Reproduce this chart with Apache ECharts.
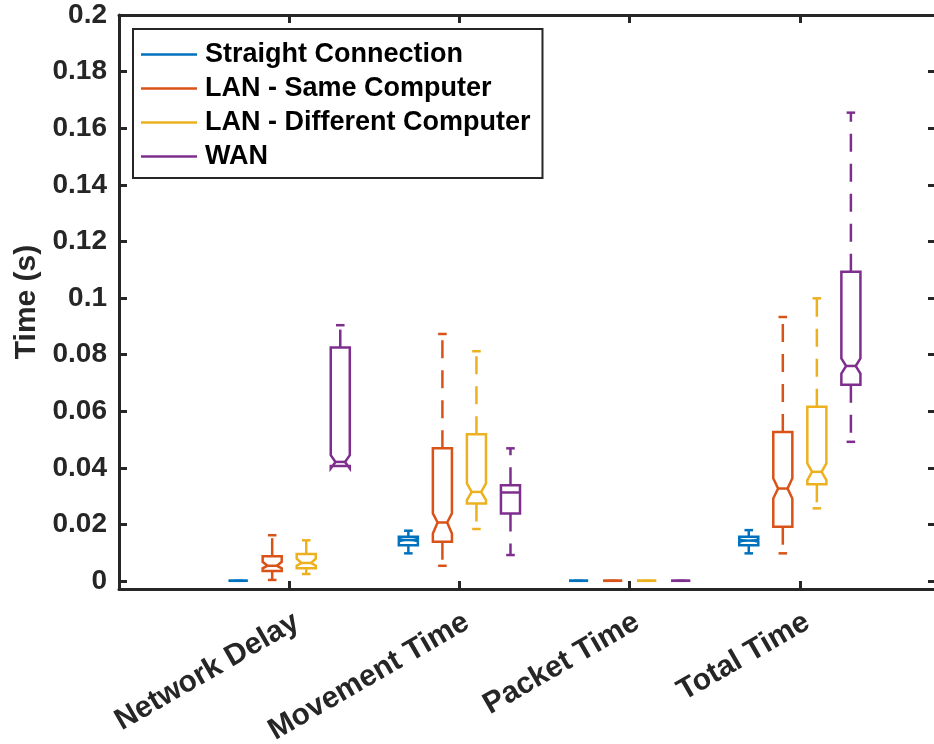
<!DOCTYPE html>
<html>
<head>
<meta charset="utf-8">
<script src="https://cdn.jsdelivr.net/npm/echarts@6/dist/echarts.min.js"></script>
<style>html,body{margin:0;padding:0;background:#fff;}#c{width:934px;height:744px;}</style>
</head>
<body>
<div id="c"></div>
<script>
// ---- data ----
const categories = ['Network Delay', 'Movement Time', 'Packet Time', 'Total Time'];
const seriesNames = ['Straight Connection', 'LAN - Same Computer', 'LAN - Different Computer', 'WAN'];
const yTickValues = [0, 0.02, 0.04, 0.06, 0.08, 0.1, 0.12, 0.14, 0.16, 0.18, 0.2];
const yTickLabels = ['0', '0.02', '0.04', '0.06', '0.08', '0.1', '0.12', '0.14', '0.16', '0.18', '0.2'];
// each row: [lowerWhisker, q1, notchLow, median, notchHigh, q3, upperWhisker] per category
const straightStats = [
  [0.0001, 0.0001, 0.0001, 0.0001, 0.0001, 0.0001, 0.0001],
  [0.0098, 0.0127, 0.0141, 0.0145, 0.0149, 0.0157, 0.0178],
  [0.0001, 0.0001, 0.0001, 0.0001, 0.0001, 0.0001, 0.0001],
  [0.0098, 0.0127, 0.0139, 0.0143, 0.0147, 0.0157, 0.0180]
];
const lanSameStats = [
  [0.0004, 0.0036, 0.0045, 0.0054, 0.0068, 0.0088, 0.0162],
  [0.0054, 0.0139, 0.0168, 0.0207, 0.0239, 0.0469, 0.0873],
  [0.0001, 0.0001, 0.0001, 0.0001, 0.0001, 0.0001, 0.0001],
  [0.0098, 0.0192, 0.0292, 0.0327, 0.0363, 0.0527, 0.0933]
];
const lanDiffStats = [
  [0.0025, 0.0045, 0.0054, 0.0064, 0.0079, 0.0096, 0.0144],
  [0.0184, 0.0274, 0.0286, 0.0315, 0.0345, 0.0519, 0.0812],
  [0.0001, 0.0001, 0.0001, 0.0001, 0.0001, 0.0001, 0.0001],
  [0.0257, 0.0342, 0.0357, 0.0386, 0.0416, 0.0616, 0.0999]
];
const wanStats = [
  [0.0407, 0.0407, 0.0398, 0.0421, 0.0445, 0.0825, 0.0904],
  [0.0092, 0.0239, 0.0313, 0.0313, 0.0313, 0.0339, 0.0469],
  [0.0001, 0.0001, 0.0001, 0.0001, 0.0001, 0.0001, 0.0001],
  [0.0492, 0.0694, 0.0733, 0.0760, 0.0787, 0.1093, 0.1655]
];

// ---- style ----
const allStats = [straightStats, lanSameStats, lanDiffStats, wanStats];
const colors = ['#0072BD', '#D95319', '#EDB120', '#7E2F8E'];
const offsets = [-0.3, -0.1, 0.1, 0.3];
const BOX_W = 0.112;
const FONT = "'Liberation Sans', Arial, Helvetica, sans-serif";
const AX = '#262626';
const LW = 2.5;

function makeRender(offset) {
  return function (params, api) {
    const g = api.value(0) + offset;
    const lo = api.value(1), q1 = api.value(2), nLo = api.value(3), med = api.value(4),
          nHi = api.value(5), q3 = api.value(6), hi = api.value(7);
    const cx = api.coord([g, 0])[0];
    const w = api.size([BOX_W, 0])[0];
    const L = cx - w / 2, R = cx + w / 2;
    const y = v => api.coord([g, v])[1];
    const notched = nHi > nLo;
    const ind = notched ? w / 4 : 0;
    const color = api.visual('color');
    const pts = notched
      ? [[L, y(q1)], [L, y(nLo)], [L + ind, y(med)], [L, y(nHi)], [L, y(q3)], [R, y(q3)], [R, y(nHi)], [R - ind, y(med)], [R, y(nLo)], [R, y(q1)]]
      : [[L, y(q1)], [L, y(q3)], [R, y(q3)], [R, y(q1)]];
    const cw = w * 0.45;
    const sLine = { stroke: color, lineWidth: LW, fill: null };
    const dLine = { stroke: color, lineWidth: LW, fill: null, lineDash: [18, 12] };
    const children = [];
    if (hi > q3) children.push({ type: 'line', shape: { x1: cx, y1: y(q3), x2: cx, y2: y(hi) }, style: dLine });
    if (lo < q1) children.push({ type: 'line', shape: { x1: cx, y1: y(q1), x2: cx, y2: y(lo) }, style: dLine });
    if (hi >= q3) children.push({ type: 'line', shape: { x1: cx - cw / 2, y1: y(hi), x2: cx + cw / 2, y2: y(hi) }, style: sLine });
    if (lo < q1) children.push({ type: 'line', shape: { x1: cx - cw / 2, y1: y(lo), x2: cx + cw / 2, y2: y(lo) }, style: sLine });
    children.push({ type: 'polygon', shape: { points: pts }, style: { stroke: color, lineWidth: LW, fill: null, lineJoin: 'miter' } });
    children.push({ type: 'line', shape: { x1: L + ind, y1: y(med), x2: R - ind, y2: y(med) }, style: sLine });
    return { type: 'group', children: children };
  };
}

const series = seriesNames.map((name, s) => ({
  name: name,
  type: 'custom',
  renderItem: makeRender(offsets[s]),
  itemStyle: { color: colors[s] },
  encode: { x: 0, y: [1, 2, 3, 4, 5, 6, 7] },
  data: allStats[s].map((row, i) => [i + 1].concat(row)),
  z: 5
}));

const chart = echarts.init(document.getElementById('c'), null, { renderer: 'canvas' });
chart.setOption({
  animation: false,
  backgroundColor: '#fff',
  grid: { left: 119, top: 15, right: -2, bottom: 155, containLabel: false, outerBoundsMode: 'none' },
  legend: {
    orient: 'vertical',
    left: 133, top: 29,
    padding: [12, 12, 8, 8],
    itemGap: 7,
    itemWidth: 56, itemHeight: 2.5,
    borderColor: AX, borderWidth: 2, backgroundColor: '#fff',
    textStyle: { fontFamily: FONT, fontWeight: 'bold', fontSize: 27, color: '#000', lineHeight: 27, padding: [0, 0, 0, 3] },
    data: seriesNames.map((n, i) => ({ name: n, icon: 'rect', itemStyle: { color: colors[i] } }))
  },
  xAxis: [{
    type: 'value', min: 0, max: 4.8, position: 'bottom',
    axisLine: { show: true, onZero: false, lineStyle: { color: AX, width: 3 } },
    axisTick: { show: true, inside: true, length: 8, customValues: [1, 2, 3, 4], lineStyle: { color: AX, width: 3 } },
    axisLabel: {
      customValues: [1, 2, 3, 4], rotate: 30, margin: 18, verticalAlign: 'top',
      formatter: v => categories[Math.round(v) - 1],
      fontFamily: FONT, fontWeight: 'bold', fontSize: 30, color: AX
    },
    splitLine: { show: false }
  }, {
    type: 'value', min: 0, max: 4.8, position: 'top',
    axisLine: { show: true, onZero: false, lineStyle: { color: AX, width: 3 } },
    axisTick: { show: true, inside: true, length: 8, customValues: [1, 2, 3, 4], lineStyle: { color: AX, width: 3 } },
    axisLabel: { show: false },
    splitLine: { show: false }
  }],
  yAxis: [{
    type: 'value', min: -0.0028, max: 0.2, position: 'left',
    name: 'Time (s)', nameLocation: 'middle', nameGap: 76, nameRotate: 90,
    nameTextStyle: { fontFamily: FONT, fontWeight: 'bold', fontSize: 30, color: AX },
    axisLine: { show: true, onZero: false, lineStyle: { color: AX, width: 3 } },
    axisTick: { show: true, inside: true, length: 8, customValues: yTickValues, lineStyle: { color: AX, width: 3 } },
    axisLabel: {
      customValues: yTickValues, margin: 12,
      formatter: v => { const i = yTickValues.findIndex(t => Math.abs(t - v) < 1e-9); return i >= 0 ? yTickLabels[i] : ''; },
      fontFamily: FONT, fontWeight: 'bold', fontSize: 28, color: AX
    },
    splitLine: { show: false }
  }, {
    type: 'value', min: -0.0028, max: 0.2, position: 'right',
    axisLine: { show: true, onZero: false, lineStyle: { color: AX, width: 3 } },
    axisTick: { show: true, inside: true, length: 8, customValues: yTickValues, lineStyle: { color: AX, width: 3 } },
    axisLabel: { show: false },
    splitLine: { show: false }
  }],
  series: series
});
</script>
</body>
</html>
